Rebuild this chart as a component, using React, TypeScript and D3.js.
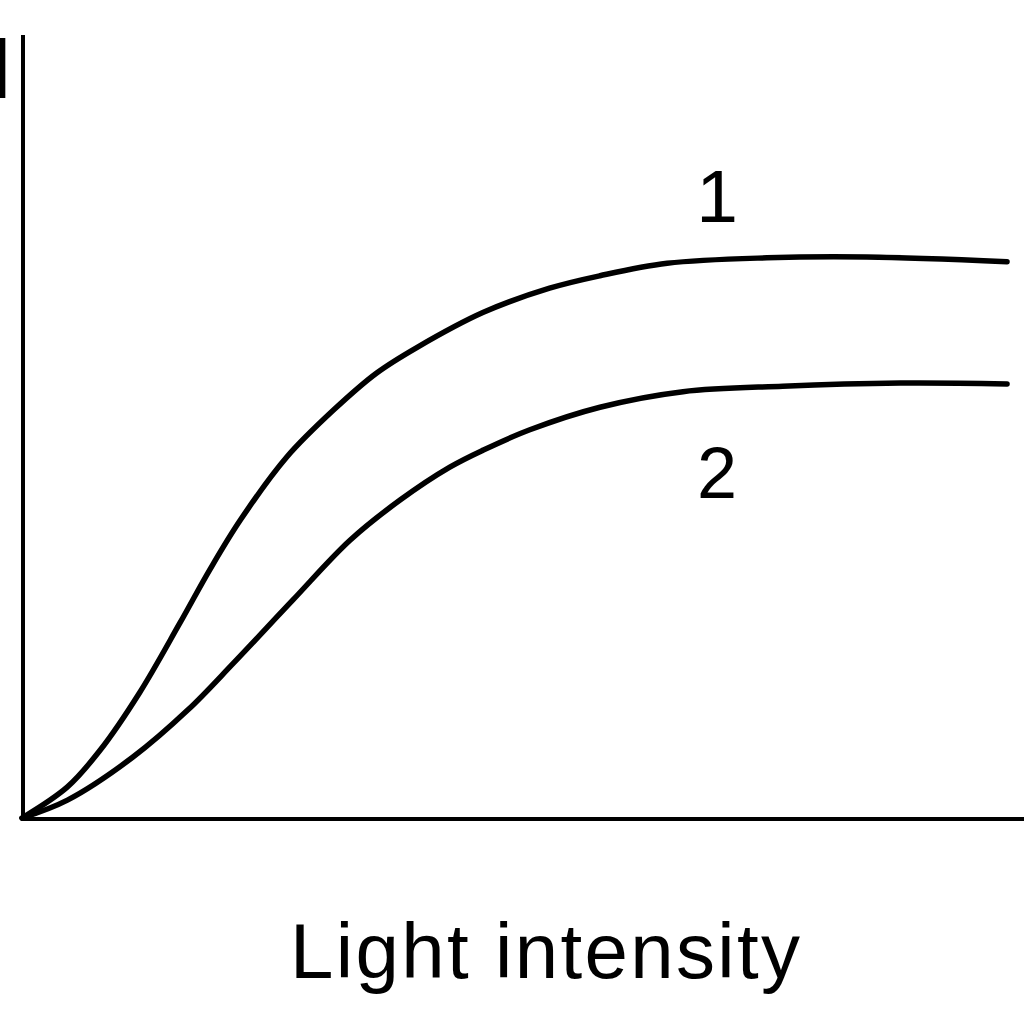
import React from "react";
import * as d3 from "d3";

const curve1X = [0, 4.6, 7.9, 11.9, 16.0, 19.0, 22.1, 26.8, 31.5, 35.9, 40.0, 46.7, 53.4, 58.5, 65.3, 75.4, 85.5, 99.7];
const curve1Y = [0, 4.0, 8.7, 16.1, 25.1, 31.9, 38.3, 46.4, 52.4, 57.2, 60.5, 65.0, 68.1, 69.7, 71.3, 72.0, 72.1, 71.5];
const curve2X = [0, 4.6, 11.2, 16.8, 21.4, 27.4, 33.2, 38.3, 43.3, 46.7, 51.4, 58.5, 66.9, 77.0, 88.9, 99.7];
const curve2Y = [0, 2.3, 7.8, 13.9, 19.9, 28.0, 35.7, 40.9, 45.1, 47.3, 49.9, 52.8, 54.8, 55.5, 55.9, 55.8];
const curveLabels = ["1", "2"];
const xLabel = "Light intensity";

const W = 1024;
const H = 1024;

export default function App() {
  const x = d3.scaleLinear().domain([0, 100]).range([22, 1010]);
  const y = d3.scaleLinear().domain([0, 100]).range([818, 40]);
  const line = d3
    .line<[number, number]>()
    .x((d) => x(d[0]))
    .y((d) => y(d[1]))
    .curve(d3.curveCatmullRom.alpha(0.5));
  const s1 = curve1X.map((v, i) => [v, curve1Y[i]] as [number, number]);
  const s2 = curve2X.map((v, i) => [v, curve2Y[i]] as [number, number]);
  const font = "'Liberation Sans', Arial, sans-serif";
  return (
    <svg
      width={W}
      height={H}
      viewBox={`0 0 ${W} ${H}`}
      style={{ position: "absolute", left: 0, top: 0, background: "#fff" }}
    >
      <rect x={0} y={0} width={W} height={H} fill="#fff" />
      {/* axes */}
      <line x1={23} y1={35} x2={23} y2={821} stroke="#000" strokeWidth={4} />
      <line x1={21} y1={819} x2={1024} y2={819} stroke="#000" strokeWidth={4} />
      {/* curves */}
      <path d={line(s1) || ""} fill="none" stroke="#000" strokeWidth={5.5} strokeLinecap="round" />
      <path d={line(s2) || ""} fill="none" stroke="#000" strokeWidth={5.5} strokeLinecap="round" />
      {/* curve labels */}
      <text x={717} y={222} fontFamily={font} fontSize={75} textAnchor="middle" fill="#000">
        {curveLabels[0]}
      </text>
      <text x={717} y={498} fontFamily={font} fontSize={72} textAnchor="middle" fill="#000">
        {curveLabels[1]}
      </text>
      {/* cut-off y label glyph */}
      <text x={-11} y={98} fontFamily={font} fontSize={88} fill="#000">
        I
      </text>
      {/* x label */}
      <text
        x={290}
        y={978}
        fontFamily={font}
        fontSize={78}
        textLength={510}
        lengthAdjust="spacing"
        fill="#000"
      >
        {xLabel}
      </text>
    </svg>
  );
}
